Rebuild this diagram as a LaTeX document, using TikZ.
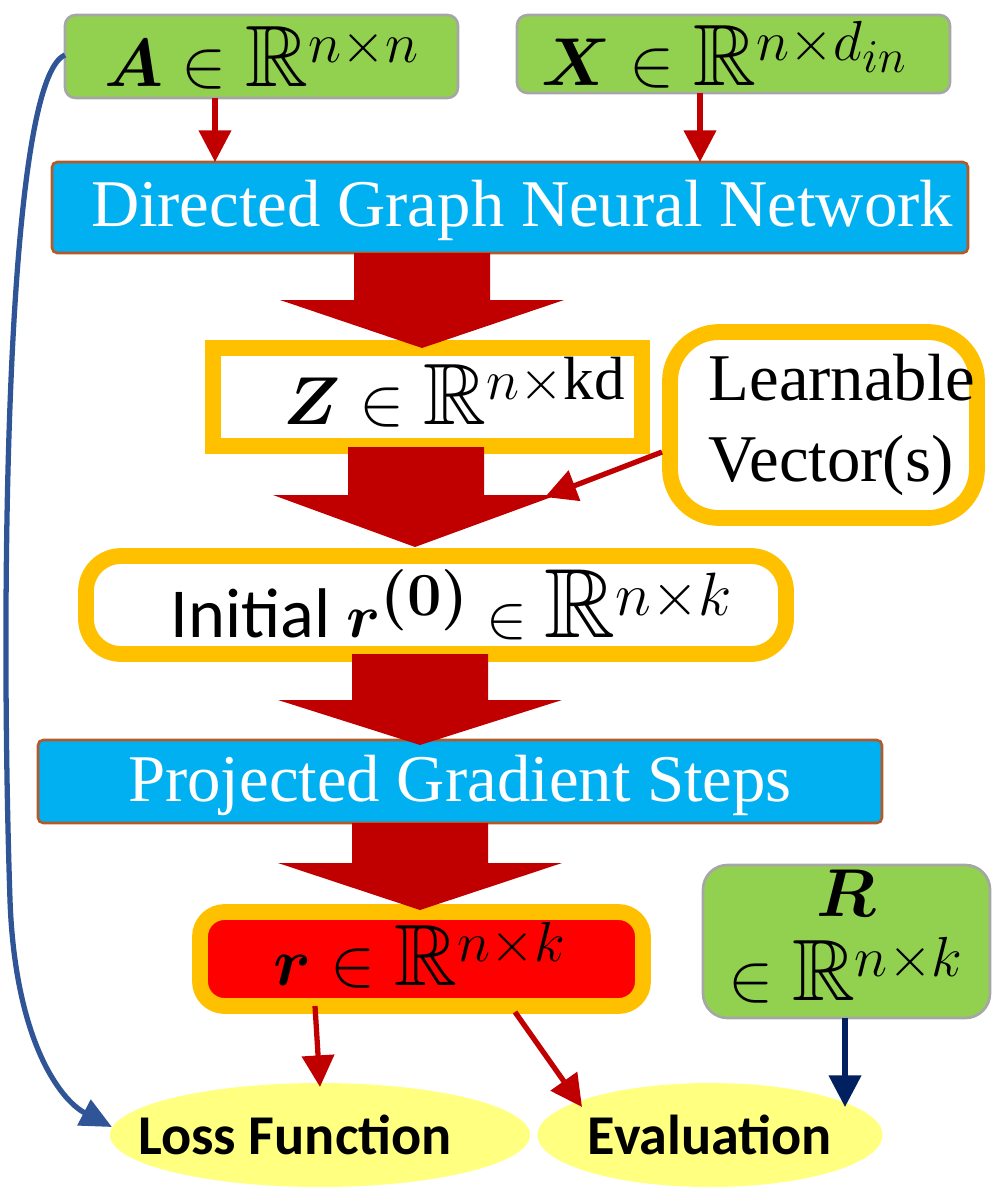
\documentclass[tikz,border=0pt]{standalone}
\usepackage{amsmath,amssymb,bm,graphicx}
\usepackage{fontspec}
\usetikzlibrary{arrows.meta,shapes.geometric}
\setmainfont{Liberation Serif}
\newfontfamily\carl{Carlito}
\newcommand{\MM}[1]{\scalebox{1.55}{$#1$}}
\definecolor{gr}{RGB}{146,208,80}
\definecolor{bl}{RGB}{0,176,240}
\definecolor{dr}{RGB}{192,0,0}
\definecolor{og}{RGB}{255,192,0}
\definecolor{br}{RGB}{180,90,40}
\definecolor{yl}{RGB}{255,255,128}
\definecolor{cv}{RGB}{47,85,151}
\definecolor{nv}{RGB}{0,32,96}
\begin{document}
\begin{tikzpicture}[x=0.02cm,y=-0.02cm,
 gbox/.style={draw=gray!70,line width=1.5pt,fill=gr,rounded corners=6pt},
 bbox/.style={draw=br,line width=1.5pt,fill=bl,rounded corners=3pt},
 obox/.style={draw=og,line width=9pt,fill=white},
 thin/.style={draw=dr,line width=3pt,-{Triangle[length=18pt,width=18pt]}},
 big/.style={fill=dr},
 ell/.style={fill=yl,ellipse,inner sep=0pt,font=\carl\bfseries\fontsize{32}{34}\selectfont},
 txt/.style={font=\fontsize{32}{36}\selectfont}]
\useasboundingbox (0,0) rectangle (1000,1200);
% boxes
\filldraw[gbox] (65,15) rectangle (458,98);
\node[txt] (A) at (262,58) {\MM{\bm{A}\in\mathbb{R}^{n\times n}}};
\coordinate (Ab) at (215,98);
\filldraw[gbox] (517,15) rectangle (950,93);
\node[txt] (X) at (725,55) {\MM{\bm{X}\in\mathbb{R}^{n\times d_{in}}}};
\coordinate (Xb) at (700,93);
\filldraw[bbox] (52,162) rectangle (968,253);
\node[text=white,font=\fontsize{38}{40}\selectfont] (D) at (522,210) {Directed Graph Neural Network};
\coordinate (Dt1) at (215,162); \coordinate (Dt2) at (700,162);
\draw[obox] (213,348) rectangle (642,446);
\node[txt] (Z) at (455,392) {\MM{\bm{Z}\in\mathbb{R}^{n\times \mathrm{kd}}}};
\draw[obox,rounded corners=28pt] (670,332) rectangle (977,518);
\node[align=left,font=\fontsize{38}{46}\selectfont] (L) at (842,425) {Learnable\\Vector(s)};
\coordinate (Ll) at (662,452);
\draw[obox,rounded corners=20pt] (86,556) rectangle (786,654);
\node[font=\carl\fontsize{40}{44}\selectfont] (I) at (452,605) {Initial \scalebox{1.4}{$\bm{r^{(0)}}\in\mathbb{R}^{n\times k}$}};
\filldraw[bbox] (38,740) rectangle (882,823);
\node[text=white,font=\fontsize{38}{40}\selectfont] (P) at (460,785) {Projected Gradient Steps};
\draw[obox,fill=red,rounded corners=14pt] (200,912) rectangle (643,1006);
\node[txt] (r) at (420,955) {\MM{\bm{r}\in\mathbb{R}^{n\times k}}};
\filldraw[gbox,rounded corners=14pt] (703,865) rectangle (990,1018);
\node[txt,inner sep=0pt] (R) at (846,893) {\MM{\bm{R}}};
\node[txt,inner sep=0pt] (R2) at (846,970) {\MM{\in\mathbb{R}^{n\times k}}};
% ellipses
\node[ell,minimum width=8.4cm,minimum height=2.08cm] (LF) at (320,1135) {\hspace*{-1cm}Loss Function};
\node[ell,minimum width=6.5cm,minimum height=2.08cm] (EV) at (710,1135) {Evaluation};
\coordinate (LFtop) at (320,1087); \coordinate (EVt) at (582,1107); \coordinate (EVt2) at (845,1107);
\coordinate (LFl) at (112,1127);
% big arrows
\foreach \ya/\yb/\yc/\xc/\xs in {253/300/348/422/354, 447/495/547/415/348, 654/700/745/420/352, 823/863/910/420/352}{
 \fill[big] (\xs,\ya) -- (\xs+136,\ya) -- (\xs+136,\yb) -- (\xc+142,\yb) -- (\xc,\yc) -- (\xc-142,\yb) -- (\xs,\yb) -- cycle;}
% thin arrows
\draw[thin] (Ab) -- (Dt1);
\draw[thin] (Xb) -- (Dt2);
\draw[thin] (Ll) -- (545,497);
\draw[thin] (315,1006) -- (LFtop);
\draw[thin] (515,1012) -- (EVt);
\draw[draw=nv,line width=3pt,-{Triangle[length=18pt,width=18pt]}] (845,1018) -- (EVt2);
\draw[cv,line width=3pt,-{Triangle[length=18pt,width=16pt]}] (65,55) .. controls (5,80) and (0,600) .. (10,900) .. controls (15,1040) and (60,1100) .. (LFl);
\end{tikzpicture}
\end{document}
